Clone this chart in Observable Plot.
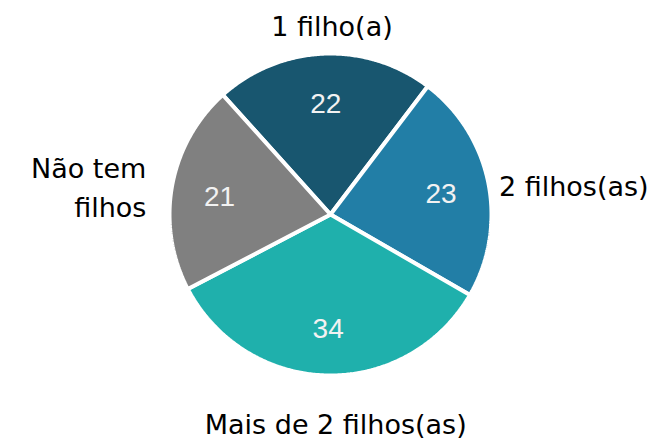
<!DOCTYPE html>
<html>
<head>
<meta charset="utf-8">
<script src="https://cdn.jsdelivr.net/npm/d3@7"></script>
<script src="https://cdn.jsdelivr.net/npm/@observablehq/plot@0.6"></script>
<style>
  html, body { margin: 0; padding: 0; background: #ffffff; }
  #chart svg { display: block; }
</style>
</head>
<body>
<div id="chart"></div>
<script>
// ---- data ----
const categories = ["1 filho(a)", "2 filhos(as)", "Mais de 2 filhos(as)", "Não tem filhos"];
const labelText  = ["1 filho(a)", "2 filhos(as)", "Mais de 2 filhos(as)", "Não tem\nfilhos"];
const values     = [22, 23, 34, 21];
const colors     = ["#18566f", "#227ea6", "#1fb0ac", "#808080"];

// ---- layout ----
const W = 669, H = 442;
const cx = 330, cy = 214;     // pie centre in px
const R = 161;                // pie radius in px (one data unit)
const start = -42 * Math.PI / 180;

const arcs = d3.pie().sort(null).value(d => d)
  .startAngle(start).endAngle(start + 2 * Math.PI)(values);

// polygon points for each slice (angle measured clockwise from north)
const slicePts = [];
arcs.forEach((a, i) => {
  slicePts.push({cat: categories[i], x: 0, y: 0});
  const n = Math.max(2, Math.ceil((a.endAngle - a.startAngle) / (Math.PI / 360)));
  for (let k = 0; k <= n; k++) {
    const t = a.startAngle + (a.endAngle - a.startAngle) * k / n;
    slicePts.push({cat: categories[i], x: Math.sin(t), y: Math.cos(t)});
  }
});

const mids = arcs.map(a => (a.startAngle + a.endAngle) / 2);

// value labels inside slices
const valueLabels = arcs.map((a, i) => ({
  v: values[i],
  x: Math.sin(mids[i]) * 0.7,
  y: Math.cos(mids[i]) * 0.7
}));

// category labels outside
const Lx = 180 / R, Ly = 199 / R, dyOut = -8 / R;
const catLabels = arcs.map((a, i) => {
  const ux = Math.sin(mids[i]), uy = Math.cos(mids[i]);
  return {
    t: labelText[i],
    ux,
    x: ux * Lx,
    y: uy * Ly + dyOut
  };
});

const catFont = {fontFamily: "DejaVu Sans, sans-serif", fontSize: 27, fill: "#000000", lineHeight: 1.45};

const chart = Plot.plot({
  width: W,
  height: H,
  margin: 0,
  x: {domain: [-cx / R, (W - cx) / R], axis: null},
  y: {domain: [-(H - cy) / R, cy / R], axis: null},
  color: {domain: categories, range: colors},
  style: {background: "#ffffff", overflow: "visible"},
  marks: [
    Plot.line(slicePts, {
      x: "x", y: "y", z: "cat", fill: "cat",
      stroke: "#ffffff", strokeWidth: 4, strokeLinejoin: "miter",
      curve: "linear-closed"
    }),
    Plot.text(valueLabels, {
      x: "x", y: "y", text: d => String(d.v), dy: 2,
      fill: "#f2f2f2", fontSize: 28, fontFamily: "Liberation Sans, Arial, sans-serif"
    }),
    Plot.text(catLabels.filter(d => d.ux > 0.5), {
      x: "x", y: "y", text: "t", textAnchor: "start", dx: -8, ...catFont
    }),
    Plot.text(catLabels.filter(d => d.ux < -0.5), {
      x: "x", y: "y", text: "t", textAnchor: "end", dx: -7, dy: -2, ...catFont
    }),
    Plot.text(catLabels.filter(d => Math.abs(d.ux) <= 0.5), {
      x: "x", y: "y", text: "t", textAnchor: "middle", dx: 9, ...catFont
    })
  ]
});

document.getElementById("chart").appendChild(chart);
</script>
</body>
</html>
